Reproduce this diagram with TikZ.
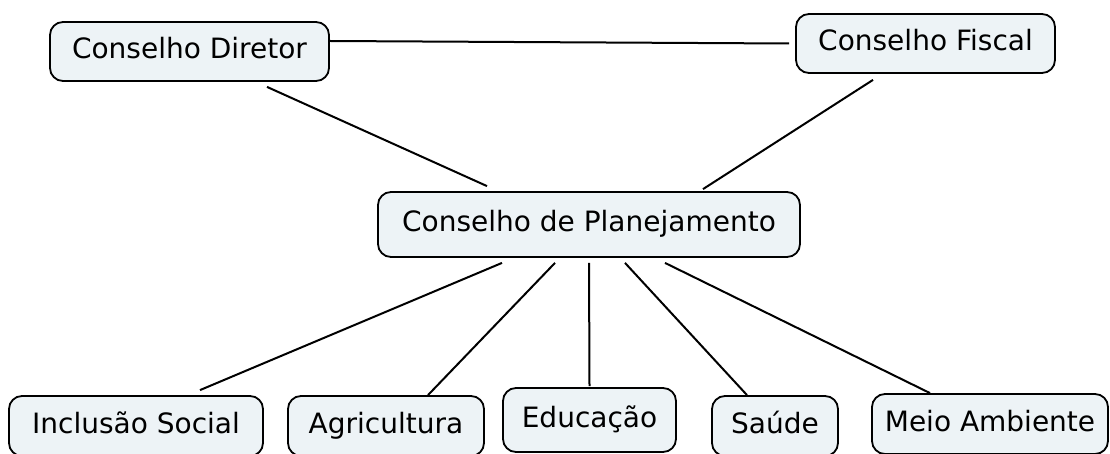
\documentclass[tikz,border=0pt]{standalone}
\usepackage{fontspec}
\setmainfont{DejaVu Sans}
\usepackage{tikz}
\usetikzlibrary{calc}
\definecolor{boxfill}{RGB}{237,243,246}
\tikzset{>=latex}
\tikzset{box/.style={draw,line width=1.8pt,rounded corners=13pt,fill=boxfill,
    inner sep=0pt,minimum height=59pt,text height=20pt,text depth=6pt,
    font=\fontsize{28}{32}\selectfont}}
\tikzset{link/.style={line width=2pt}}

\begin{document}
\begin{tikzpicture}[x=1pt,y=-1pt]
      \clip (0,0) rectangle (1110,454);

      \node [box,minimum width=279pt] (cd) at (189.5,51.5) {Conselho Diretor};
      \node [box,minimum width=259pt] (cf) at (925.5,43.5) {Conselho Fiscal};
      \node [box,minimum width=422pt,minimum height=65pt] (cp) at (589,224.5)
      {Conselho de Planejamento};

      \node [box,minimum width=254pt,minimum height=60pt] (is) at (136,426) {Inclusão Social};
      \node [box,minimum width=196pt,minimum height=60pt] (ag) at (386,426) {Agricultura};
      \node [box,minimum width=173pt,minimum height=64pt] (ed) at (589.5,420) {Educação};
      \node [box,minimum width=126pt,minimum height=60pt] (sa) at (775,426) {Saúde};
      \node [box,minimum width=236pt,minimum height=60pt] (ma) at (990,424) {Meio Ambiente};

      \draw [link] ([yshift=10.5pt]cd.east) -- ([xshift=-6pt]cf.west);
      \draw [link] ([xshift=77.5pt,yshift=-5pt]cd.south) -- ([xshift=-102pt,yshift=5pt]cp.north);
      \draw [link] ([xshift=-52.5pt,yshift=-6pt]cf.south) -- ([xshift=114pt,yshift=2pt]cp.north);

      \draw [link] ([xshift=-87pt,yshift=-5pt]cp.south) -- ([xshift=64pt,yshift=5pt]is.north);
      \draw [link] ([xshift=-34pt,yshift=-5pt]cp.south) -- ([xshift=42pt]ag.north);
      \draw [link] ([yshift=-5pt]cp.south) -- ([yshift=1pt]ed.north);
      \draw [link] ([xshift=36pt,yshift=-5pt]cp.south) -- ([xshift=-28pt]sa.north);
      \draw [link] ([xshift=76pt,yshift=-5pt]cp.south) -- ([xshift=-60pt]ma.north);
\end{tikzpicture}
\end{document}
